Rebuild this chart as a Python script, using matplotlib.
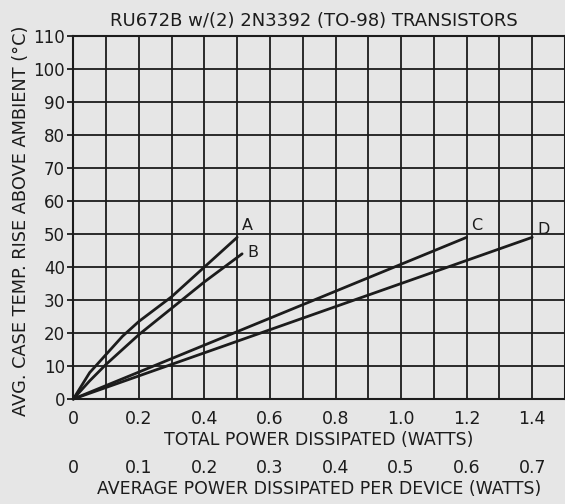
"""RU672B thermal rise vs dissipated power, redrawn from the datasheet graph."""
import matplotlib
matplotlib.use("Agg")
import matplotlib.pyplot as plt

plt.rcParams["font.family"] = ["DejaVu Sans"]

PAPER = "#e6e6e6"
INK = "#1c1c1c"

# total power (W) vs case temp rise (deg C)
a_power = [0.0, 0.05, 0.1, 0.15, 0.2, 0.3, 0.4, 0.5]
a_rise = [0.0, 8.0, 13.5, 19.0, 23.5, 31.0, 40.0, 49.0]
b_power = [0.0, 0.05, 0.1, 0.2, 0.3, 0.4, 0.515]
b_rise = [0.0, 5.5, 10.5, 19.5, 27.5, 35.5, 44.0]
c_power = [0.0, 1.2]
c_rise = [0.0, 49.0]
d_power = [0.0, 1.4]
d_rise = [0.0, 49.0]

curve_names = ["A", "B", "C", "D"]
label_pos = [(0.53, 52.5), (0.548, 44.5), (1.23, 52.5), (1.435, 51.5)]

y_ticks = list(range(0, 111, 10))
x_ticks = [0, 0.2, 0.4, 0.6, 0.8, 1.0, 1.2, 1.4]
x_tick_labels = ["0", "0.2", "0.4", "0.6", "0.8", "1.0", "1.2", "1.4"]
dev_ticks = [0, 0.1, 0.2, 0.3, 0.4, 0.5, 0.6, 0.7]
dev_tick_labels = ["0", "0.1", "0.2", "0.3", "0.4", "0.5", "0.6", "0.7"]

fig = plt.figure(figsize=(5.65, 5.04), dpi=100, facecolor=PAPER)
ax = fig.add_axes([0.1297, 0.2083, 0.8703, 0.7202])
ax.set_facecolor(PAPER)
ax.set_xlim(0, 1.5)
ax.set_ylim(0, 110)

# grid every 0.1 W and every 10 deg
ax.set_xticks([i / 10 for i in range(16)], minor=True)
ax.set_xticks(x_ticks)
ax.set_xticklabels(x_tick_labels, fontsize=12.5, color=INK)
ax.set_yticks(y_ticks)
ax.set_yticklabels([str(v) for v in y_ticks], fontsize=12, color=INK)
ax.grid(True, which="both", color=INK, linewidth=1.3)
ax.tick_params(axis="x", which="both", length=0, pad=8)
ax.tick_params(axis="y", length=4, width=1.3, color=INK, pad=2)
for s in ax.spines.values():
    s.set_color(INK)
    s.set_linewidth(1.5)

for px, ry in [(a_power, a_rise), (b_power, b_rise),
               (c_power, c_rise), (d_power, d_rise)]:
    ax.plot(px, ry, "-", color=INK, linewidth=2.0, solid_capstyle="round",
            solid_joinstyle="round", clip_on=False)
for name, (lx, ly) in zip(curve_names, label_pos):
    ax.text(lx, ly, name, fontsize=11.5, color=INK, ha="center", va="center")

ax.set_xlabel("TOTAL POWER DISSIPATED (WATTS)", fontsize=12.5, color=INK,
              labelpad=2)
ax.set_ylabel("AVG. CASE TEMP. RISE ABOVE AMBIENT (°C)", fontsize=12.8,
              color=INK)
ax.yaxis.set_label_coords(-0.088, 0.49)
ax.set_title("RU672B w/(2) 2N3392 (TO-98) TRANSISTORS", fontsize=13,
             color=INK, pad=7, x=0.49)

# per-device power is half the total (two transistors)
sec = ax.secondary_xaxis(-0.166, functions=(lambda x: x / 2, lambda x: x * 2))
sec.set_xticks(dev_ticks)
sec.set_xticklabels(dev_tick_labels, fontsize=12.5, color=INK)
sec.tick_params(length=0, pad=0)
sec.spines["bottom"].set_visible(False)
sec.set_xlabel("AVERAGE POWER DISSIPATED PER DEVICE (WATTS)", fontsize=12.5,
               color=INK, labelpad=2)

fig.savefig("out.png", dpi=100, facecolor=PAPER)
